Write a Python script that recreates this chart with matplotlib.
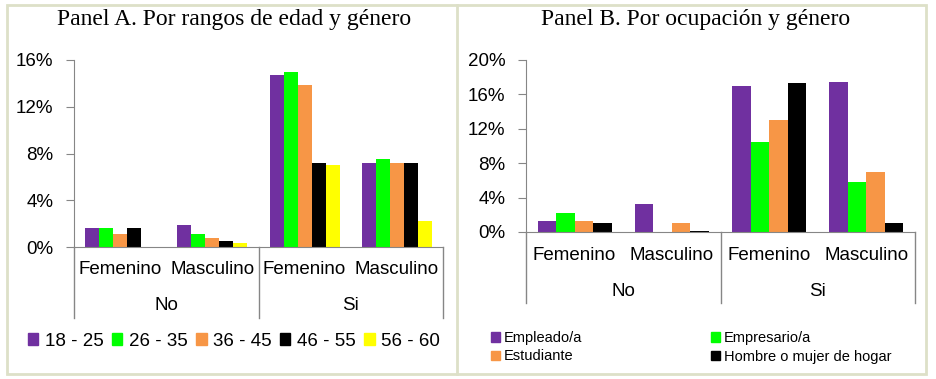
import matplotlib
matplotlib.use('Agg')
import matplotlib.pyplot as plt
import matplotlib.transforms as mtransforms
from matplotlib.patches import Rectangle, Patch
import numpy as np

plt.rcParams['font.family'] = ['Liberation Sans', 'DejaVu Sans']

# data
genders = ['Femenino', 'Masculino', 'Femenino', 'Masculino']
groups = ['No', 'Si']

age_labels = ['18 - 25', '26 - 35', '36 - 45', '46 - 55', '56 - 60']
age_18_25 = [1.6, 1.9, 14.7, 7.2]
age_26_35 = [1.6, 1.1, 15.0, 7.5]
age_36_45 = [1.1, 0.8, 13.9, 7.2]
age_46_55 = [1.6, 0.5, 7.2, 7.2]
age_56_60 = [0.0, 0.35, 7.0, 2.2]

occ_labels = ['Empleado/a', 'Empresario/a', 'Estudiante', 'Hombre o mujer de hogar']
occ_empleado = [1.3, 3.3, 17.0, 17.5]
occ_empresario = [2.25, 0.0, 10.5, 5.8]
occ_estudiante = [1.3, 1.1, 13.0, 7.0]
occ_hogar = [1.1, 0.15, 17.3, 1.1]

colors = ['#7030A0', '#00FF00', '#F79646', '#000000', '#FFFF00']
frame_col = '#DDE0C8'
axis_col = '#868686'

W, H = 936, 379
fig = plt.figure(figsize=(W / 100, H / 100), dpi=100)


def px(x0, y_top, x1, y_bot):
    # pixel box -> figure fraction rect
    return [x0 / W, 1 - y_bot / H, (x1 - x0) / W, (y_bot - y_top) / H]


def draw_panel(ax, series, width, ymax, ystep, fs, label_y, group_y, line_bot):
    n = len(series)
    x = np.arange(len(genders))
    for i, vals in enumerate(series):
        ax.bar(x + (i - (n - 1) / 2) * width, vals, width, color=colors[i], zorder=2)
    ax.set_xlim(-0.5, len(genders) - 0.5)
    ax.set_ylim(0, ymax)
    ax.set_yticks(np.arange(0, ymax + 0.1, ystep))
    ax.set_yticklabels([f'{int(v)}%' for v in np.arange(0, ymax + 0.1, ystep)], fontsize=fs)
    ax.set_xticks([])
    for s in ['top', 'right']:
        ax.spines[s].set_visible(False)
    for s in ['left', 'bottom']:
        ax.spines[s].set_color(axis_col)
    ax.tick_params(axis='y', length=6, color=axis_col, pad=9)

    # two-level category axis
    tr = mtransforms.blended_transform_factory(ax.transData, fig.transFigure)
    for i, g in enumerate(genders):
        ax.text(i, 1 - label_y / H, g, transform=tr, ha='center', va='center', fontsize=fs)
    for j, g in enumerate(groups):
        ax.text(2 * j + 0.5, 1 - group_y / H, g, transform=tr, ha='center', va='center', fontsize=fs)
    for xd in [-0.5, 1.5, 3.5]:
        ax.plot([xd, xd], [ax.get_position().y0, 1 - line_bot / H], transform=tr,
                color=axis_col, lw=1, clip_on=False)


# Panel A
axA = fig.add_axes(px(74, 60, 443, 247))
draw_panel(axA, [age_18_25, age_26_35, age_36_45, age_46_55, age_56_60],
           0.152, 16, 4, 13.5, 270, 306, 318)
fig.text(234 / W, 1 - 19 / H, 'Panel A. Por rangos de edad y género',
         family='Liberation Serif', fontsize=17, ha='center', va='center')
handlesA = [Patch(color=c) for c in colors]
fig.legend(handlesA, age_labels, loc='center', bbox_to_anchor=(234 / W, 1 - 341 / H),
           ncol=5, frameon=False, fontsize=13.5, handlelength=0.55, handleheight=0.55,
           handletextpad=0.35, columnspacing=0.45)

# Panel B (legend filled row by row)
handlesB = [Patch(color=c) for c in colors[:4]]
order = [0, 2, 1, 3]
axB = fig.add_axes(px(526, 60, 915, 232))
draw_panel(axB, [occ_empleado, occ_empresario, occ_estudiante, occ_hogar],
           0.19, 20, 4, 13.5, 256, 291, 303)
fig.text(696 / W, 1 - 19 / H, 'Panel B. Por ocupación y género',
         family='Liberation Serif', fontsize=17, ha='center', va='center')
fig.legend([handlesB[i] for i in order], [occ_labels[i] for i in order],
           loc='upper left', bbox_to_anchor=(478 / W, 1 - 318 / H),
           ncol=2, frameon=False, fontsize=10.5, handlelength=0.6, handleheight=0.6,
           handletextpad=0.3, columnspacing=8.8, labelspacing=0.3)

# outer frame and divider
fig.patches.append(Rectangle((7 / W, 1 - 374 / H), (926 - 7) / W, (374 - 5) / H,
                             transform=fig.transFigure, fill=False, ec=frame_col, lw=2))
fig.lines.append(plt.Line2D([457 / W, 457 / W], [1 - 374 / H, 1 - 5 / H],
                            transform=fig.transFigure, color=frame_col, lw=2))

fig.savefig('out.png', dpi=100)
